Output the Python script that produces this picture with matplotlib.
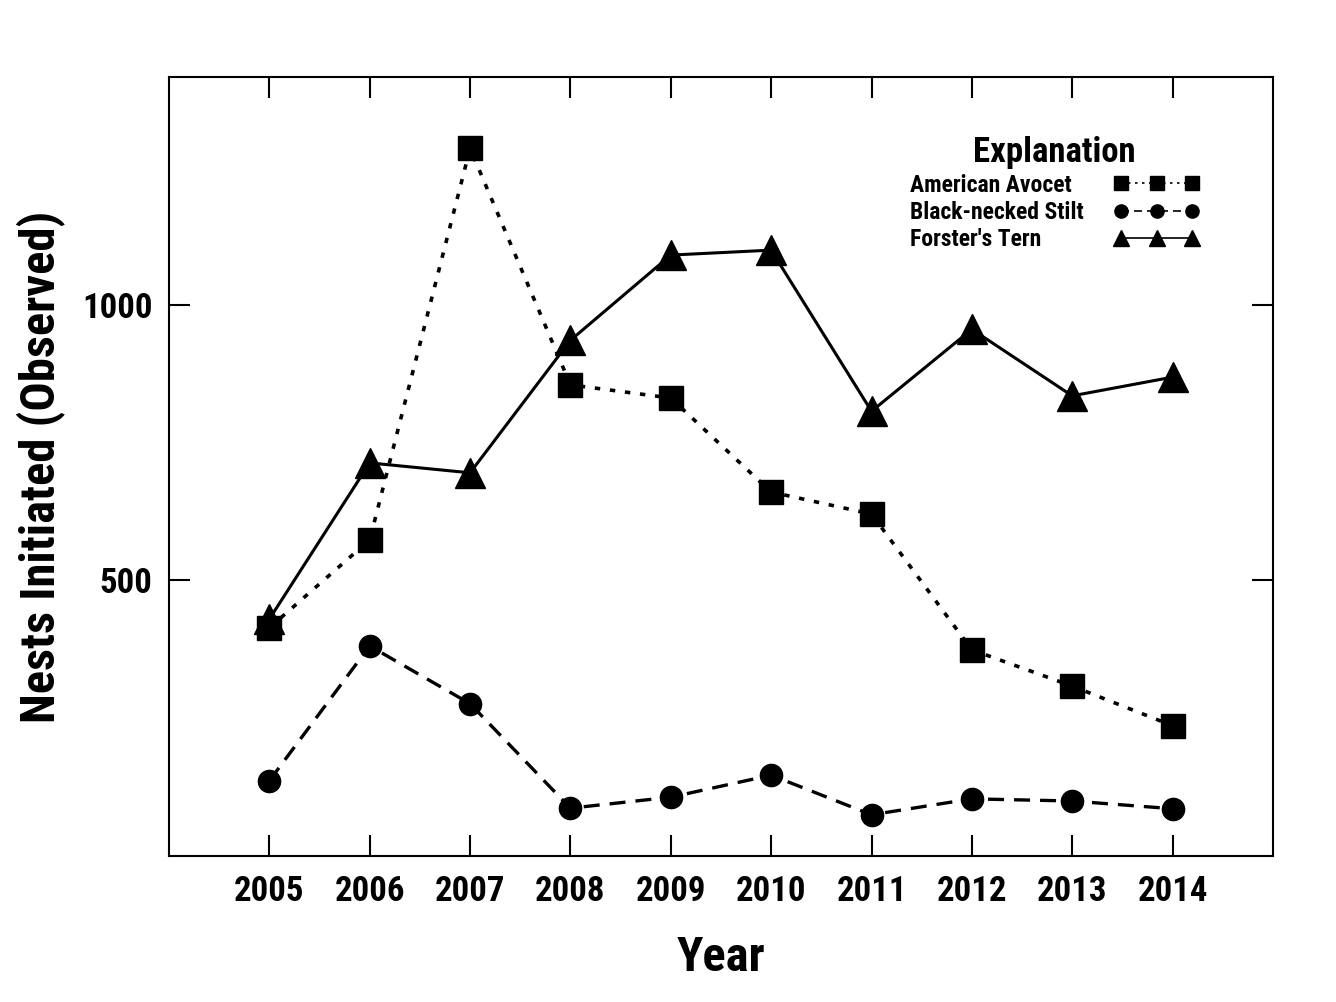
import matplotlib
matplotlib.use('Agg')
import matplotlib.pyplot as plt

years = [2005, 2006, 2007, 2008, 2009, 2010, 2011, 2012, 2013, 2014]
avocet = [413, 573, 1285, 855, 831, 660, 620, 373, 307, 235]
stilt = [135, 380, 275, 85, 105, 145, 73, 102, 98, 84]
tern = [429, 713, 695, 936, 1091, 1100, 807, 956, 835, 869]

plt.rcParams['font.family'] = ['Roboto Condensed', 'DejaVu Sans']
plt.rcParams['font.weight'] = 'bold'

fig = plt.figure(figsize=(13.36, 10.02), dpi=100)
ax = fig.add_axes([0.1265, 0.1457, 0.8263, 0.7775])

ax.plot(years, avocet, color='black', ls=(0, (1.5, 2.7)), lw=2.6, marker='s', ms=17,
        label='American Avocet')
ax.plot(years, stilt, color='black', ls=(0, (4.8, 3)), lw=2.4, marker='o', ms=16,
        label='Black-necked Stilt')
ax.plot(years, tern, color='black', ls='-', lw=2.2, marker='^', ms=21,
        label="Forster's Tern")

ax.set_xlim(2004, 2015)
ax.set_ylim(-2, 1415)
ax.set_xticks(years)
ax.set_yticks([500, 1000])
ax.tick_params(direction='in', length=15, width=1.5, top=True, right=True,
               labelsize=25, pad=12)
ax.tick_params(axis='x', pad=14)
for lab in ax.get_xticklabels() + ax.get_yticklabels():
    lab.set_fontweight('bold')
for s in ax.spines.values():
    s.set_linewidth(1.5)

ax.set_xlabel('Year', fontsize=35, fontweight='bold', labelpad=19)
ax.set_ylabel('Nests Initiated (Observed)', fontsize=35, fontweight='bold', labelpad=12)

leg = ax.legend(loc='upper right', bbox_to_anchor=(0.944, 0.939), frameon=False,
                markerfirst=False, numpoints=3, handlelength=3.6, fontsize=17,
                title='Explanation', title_fontsize=25, labelspacing=0.18,
                handletextpad=1.3, borderpad=0)
leg.get_title().set_fontweight('bold')
for h in leg.legend_handles:
    h.set_linewidth(1.2)
leg.legend_handles[0].set_markersize(9.5)
leg.legend_handles[1].set_markersize(9.5)
leg.legend_handles[2].set_markersize(12)

# labels of the explanation are left aligned in the original
fig.canvas.draw()
x0 = leg.get_window_extent().x0
inv = ax.transAxes.inverted()
for t in leg.get_texts():
    bb = t.get_window_extent()
    xa, ya = inv.transform((x0, bb.y0))
    ax.text(xa, ya, t.get_text(), transform=ax.transAxes, ha='left', va='bottom',
            fontsize=17, fontweight='bold')
    t.set_visible(False)

fig.savefig('out.png', dpi=100)
